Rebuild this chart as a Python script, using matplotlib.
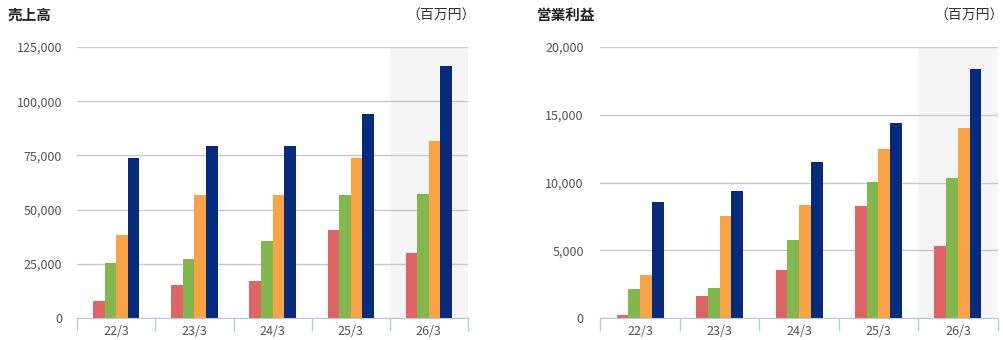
import matplotlib
matplotlib.use('Agg')
import matplotlib.pyplot as plt
import numpy as np
from matplotlib.ticker import FuncFormatter, FixedLocator

plt.rcParams['font.family'] = ['Noto Sans CJK JP', 'DejaVu Sans']

years = ['22/3', '23/3', '24/3', '25/3', '26/3']

# 売上高 (百万円)
sales_red = [7800, 15200, 17100, 40600, 30000]
sales_green = [25400, 27200, 35500, 56700, 57200]
sales_orange = [38300, 56700, 56700, 73800, 81600]
sales_blue = [73800, 79300, 79300, 94200, 116200]

# 営業利益 (百万円)
op_red = [230, 1620, 3540, 8270, 5310]
op_green = [2140, 2210, 5760, 10040, 10330]
op_orange = [3170, 7530, 8340, 12470, 14020]
op_blue = [8560, 9370, 11510, 14390, 18380]

colors = ['#e06464', '#82b74e', '#f9a345', '#072b7c']

fig = plt.figure(figsize=(10.04, 3.4), dpi=100)


def draw(ax, series, ymax, step, pad):
    x = np.arange(len(years))
    w = 0.148
    ax.axvspan(3.5, 4.5, color='#f5f5f5', zorder=0, lw=0)
    for i, (vals, c) in enumerate(zip(series, colors)):
        ax.bar(x + (i - 1.5) * w, vals, width=w, color=c, zorder=3, lw=0)
    ax.set_xlim(-0.5, 4.5)
    ax.set_ylim(0, ymax)
    ax.set_yticks(np.arange(0, ymax + 1, step))
    ax.yaxis.set_major_formatter(FuncFormatter(lambda v, p: f'{int(v):,}'))
    ax.grid(axis='y', color='#c8c8c8', lw=1, zorder=1)
    ax.set_axisbelow(True)
    for s in ['left', 'right', 'top']:
        ax.spines[s].set_visible(False)
    ax.spines['bottom'].set_color('#b9c9da')
    ax.spines['bottom'].set_zorder(4)
    ax.set_xticks(x)
    ax.set_xticklabels(years)
    ax.xaxis.set_minor_locator(FixedLocator(np.arange(-0.5, 5, 1)))
    ax.tick_params(axis='x', which='major', length=0, pad=5, labelsize=9, colors='#555555')
    ax.tick_params(axis='x', which='minor', length=9, color='#b9c9da', width=1)
    ax.tick_params(axis='y', length=0, pad=pad, labelsize=9, colors='#555555')


ax1 = fig.add_axes([0.077, 0.0647, 0.389, 0.797])
draw(ax1, [sales_red, sales_green, sales_orange, sales_blue], 125000, 25000, 11)

ax2 = fig.add_axes([0.598, 0.0647, 0.3957, 0.797])
draw(ax2, [op_red, op_green, op_orange, op_blue], 20000, 5000, 12)

fig.text(8 / 1004, 1 - 15 / 340, '売上高', fontsize=10.5, fontweight='bold', va='center', color='#222222')
fig.text(476 / 1004, 1 - 16 / 340, '（百万円）', fontsize=10, va='center', ha='right', color='#333333')
fig.text(537 / 1004, 1 - 15 / 340, '営業利益', fontsize=10.5, fontweight='bold', va='center', color='#222222')
fig.text(1.0, 1 - 16 / 340, '（百万円）', fontsize=10, va='center', ha='right', color='#333333')

fig.savefig('out.png', dpi=100)
